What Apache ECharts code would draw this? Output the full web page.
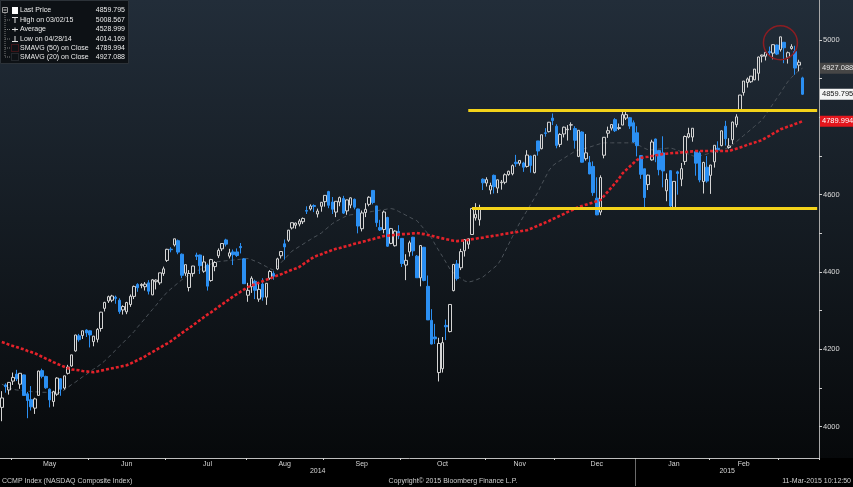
<!DOCTYPE html>
<html><head><meta charset="utf-8">
<script src="https://cdn.jsdelivr.net/npm/echarts@6/dist/echarts.min.js"></script>
<style>html,body{margin:0;padding:0;background:#000}#c{width:853px;height:487px}</style>
</head><body><div id="c"></div>
<script>
// ---- trading days (categories) ----
const tradingDays = {
  '2014-04': [28,29,30],
  '2014-05': [1,2,5,6,7,8,9,12,13,14,15,16,19,20,21,22,23,27,28,29,30],
  '2014-06': [2,3,4,5,6,9,10,11,12,13,16,17,18,19,20,23,24,25,26,27,30],
  '2014-07': [1,2,3,7,8,9,10,11,14,15,16,17,18,21,22,23,24,25,28,29,30,31],
  '2014-08': [1,4,5,6,7,8,11,12,13,14,15,18,19,20,21,22,25,26,27,28,29],
  '2014-09': [2,3,4,5,8,9,10,11,12,15,16,17,18,19,22,23,24,25,26,29,30],
  '2014-10': [1,2,3,6,7,8,9,10,13,14,15,16,17,20,21,22,23,24,27,28,29,30,31],
  '2014-11': [3,4,5,6,7,10,11,12,13,14,17,18,19,20,21,24,25,26,28],
  '2014-12': [1,2,3,4,5,8,9,10,11,12,15,16,17,18,19,22,23,24,26,29,30,31],
  '2015-01': [2,5,6,7,8,9,12,13,14,15,16,20,21,22,23,26,27,28,29,30],
  '2015-02': [2,3,4,5,6,9,10,11,12,13,17,18,19,20,23,24,25,26,27],
  '2015-03': [2,3,4,5,6,9,10]
};
const emptyDaysAfter = ['2015-03-11','2015-03-12','2015-03-13','2015-03-16'];
const monthLabels = {'2014-05':'May','2014-06':'Jun','2014-07':'Jul','2014-08':'Aug','2014-09':'Sep',
  '2014-10':'Oct','2014-11':'Nov','2014-12':'Dec','2015-01':'Jan','2015-02':'Feb'};
const yearLabels = ['2014','2015'];

// ---- OHLC ----
const openP = [
4050,4108,4095,4118,4136,4110,4134,4085,4070,4048,
4081,4145,4130,4097,4065,4084,4124,4100,4138,4157,
4196,4235,4236,4250,4248,4220,4226,4254,4306,4325,
4327,4335,4327,4302,4297,4316,4337,4368,4365,4362,
4372,4341,4375,4372,4396,4430,4459,4470,4481,4446,
4397,4360,4396,4444,4444,4402,4418,4378,4414,4442,
4460,4483,4441,4452,4452,4466,4434,4340,4362,4376,
4330,4369,4335,4384,4396,4408,4442,4473,4482,4514,
4521,4524,4530,4559,4563,4572,4550,4570,4582,4608,
4581,4555,4581,4590,4558,4573,4588,4563,4512,4554,
4575,4611,4571,4515,4510,4541,4474,4468,4505,4487,
4418,4452,4490,4441,4385,4464,4363,4275,4232,4140,
4150,4262,4246,4352,4421,4411,4455,4472,4497,4540,
4535,4640,4630,4612,4650,4617,4631,4632,4652,4654,
4684,4681,4682,4673,4700,4657,4739,4719,4760,4763,
4798,4777,4730,4757,4768,4780,4771,4699,4762,4693,
4683,4673,4591,4555,4702,4759,4772,4794,4771,4780,
4798,4799,4786,4760,4701,4667,4626,4690,4744,4714,
4708,4610,4662,4567,4659,4640,4686,4749,4749,4711,
4708,4634,4671,4650,4685,4720,4727,4777,4722,4742,
4781,4820,4864,4890,4892,4897,4914,4958,4958,4970,
4966,4987,4975,4994,4955,4978,4970,4935,4902];
const highP = [
4092,4112,4115,4140,4147,4139,4135,4090,4105,4075,
4145,4150,4132,4099,4093,4128,4126,4132,4160,4186,
4238,4240,4248,4252,4249,4235,4255,4297,4323,4339,
4341,4339,4332,4314,4323,4342,4365,4371,4371,4374,
4379,4382,4381,4398,4414,4460,4464,4486,4484,4448,
4419,4405,4416,4450,4445,4442,4422,4434,4428,4461,
4475,4486,4460,4458,4461,4475,4436,4372,4389,4380,
4372,4384,4371,4405,4402,4437,4453,4484,4509,4528,
4528,4537,4541,4570,4575,4575,4564,4581,4599,4610,
4594,4583,4595,4597,4587,4593,4590,4564,4559,4578,
4596,4612,4571,4535,4559,4543,4514,4508,4521,4488,
4446,4481,4491,4444,4469,4465,4391,4304,4266,4230,
4232,4277,4317,4421,4431,4460,4484,4487,4565,4578,
4574,4642,4645,4631,4652,4639,4638,4655,4662,4678,
4703,4689,4685,4715,4701,4703,4739,4755,4772,4788,
4810,4782,4759,4776,4780,4787,4777,4767,4764,4757,
4700,4686,4645,4650,4749,4776,4782,4798,4784,4815,
4814,4801,4792,4777,4702,4667,4652,4742,4745,4715,
4751,4655,4663,4635,4662,4682,4753,4773,4772,4714,
4712,4685,4700,4677,4728,4738,4766,4791,4746,4789,
4808,4858,4894,4903,4907,4925,4957,4962,4970,4983,
4989,4988,5008.6,4995,4970,4989,4985,4949,4905];
const lowP = [
4014.2,4088,4083,4108,4118,4098,4080,4022,4042,4033,
4080,4125,4098,4050,4052,4080,4080,4096,4135,4155,
4194,4220,4227,4232,4205,4208,4218,4246,4298,4320,
4322,4318,4292,4290,4291,4310,4330,4349,4358,4352,
4342,4340,4355,4367,4390,4426,4451,4466,4446,4384,
4390,4350,4388,4431,4395,4398,4352,4375,4402,4436,
4454,4466,4435,4418,4439,4448,4369,4323,4346,4330,
4323,4326,4315,4380,4380,4405,4435,4432,4478,4510,
4512,4518,4524,4550,4559,4555,4541,4556,4569,4565,
4550,4542,4570,4550,4548,4565,4562,4500,4505,4542,
4570,4575,4517,4506,4500,4465,4472,4466,4485,4413,
4379,4440,4442,4385,4363,4376,4276,4213,4214,4117,
4140,4224,4244,4350,4378,4405,4440,4460,4497,4533,
4520,4612,4621,4601,4603,4604,4613,4627,4649,4650,
4672,4675,4659,4670,4657,4655,4701,4717,4750,4761,
4780,4720,4723,4748,4740,4767,4719,4697,4683,4688,
4653,4597,4547,4547,4694,4747,4766,4762,4767,4780,
4793,4770,4734,4699,4641,4567,4612,4688,4684,4650,
4619,4583,4567,4563,4600,4622,4677,4746,4737,4649,
4632,4603,4631,4602,4670,4709,4725,4727,4719,4731,
4774,4819,4856,4877,4889,4896,4895,4942,4947,4959,
4950,4961,4970,4940,4939,4975,4910,4919,4858];
const closeP = [
4074.4,4103.5,4114.6,4127.5,4123.9,4138.1,4080.8,4067.7,4051.5,4071.9,
4143.9,4130.2,4100.6,4069.3,4090.6,4125.8,4096.9,4131.5,4154.3,4185.8,
4237.1,4225.1,4248.0,4242.6,4237.2,4234.1,4251.6,4296.2,4321.4,4336.2,
4338.0,4331.9,4297.6,4310.7,4321.1,4337.2,4362.8,4359.3,4368.0,4368.7,
4350.4,4379.8,4379.1,4397.9,4408.2,4458.7,4457.7,4485.9,4451.5,4391.5,
4419.0,4396.2,4415.5,4440.4,4416.4,4426.0,4363.5,4432.2,4424.7,4456.0,
4473.7,4472.1,4449.6,4444.9,4442.7,4462.9,4369.8,4352.6,4383.9,4352.8,
4355.1,4335.0,4370.9,4401.3,4389.3,4434.1,4453.0,4464.9,4508.3,4527.5,
4526.5,4532.1,4538.6,4557.4,4570.6,4569.6,4557.7,4580.3,4598.2,4572.6,
4562.3,4582.9,4592.3,4552.3,4586.5,4591.8,4567.6,4518.9,4552.8,4562.2,
4593.4,4579.8,4527.7,4508.7,4555.2,4466.8,4512.2,4505.9,4493.4,4422.1,
4430.2,4475.6,4454.8,4385.2,4468.6,4378.3,4276.2,4213.7,4227.2,4215.3,
4217.4,4258.4,4316.1,4419.5,4382.9,4452.8,4483.7,4485.9,4564.3,4549.2,
4566.1,4630.7,4638.9,4623.6,4620.7,4638.5,4632.5,4651.6,4660.6,4675.1,
4680.1,4688.5,4671.0,4702.4,4675.7,4701.9,4713.0,4754.9,4758.3,4787.3,
4791.6,4727.4,4755.8,4774.5,4769.4,4780.8,4740.7,4766.5,4684.0,4708.2,
4653.6,4605.2,4547.8,4644.3,4748.4,4765.4,4781.4,4765.4,4773.5,4806.9,
4806.9,4777.4,4736.1,4726.8,4652.6,4592.7,4650.5,4736.2,4704.1,4664.7,
4661.5,4639.3,4570.8,4634.4,4654.9,4667.4,4750.4,4757.9,4771.8,4681.5,
4638.0,4683.4,4635.2,4676.7,4727.7,4716.7,4765.1,4744.4,4726.0,4787.6,
4801.2,4857.6,4893.8,4899.3,4906.4,4924.7,4956.0,4961.0,4968.1,4967.1,
4987.9,4963.5,5008.1,4979.9,4967.1,4982.8,4927.4,4942.4,4859.8];

// ---- moving averages ----
const sma50 = [
4219,4216,4212,4209,4206,4203,4200,4196,4193,4190,
4185,4181,4176,4172,4167,4163,4159,4155,4151,4148,
4147,4146,4144,4143,4142,4141,4143,4145,4147,4149,
4151,4153,4155,4157,4159,4163,4168,4172,4177,4182,
4188,4193,4199,4204,4210,4215,4221,4228,4235,4242,
4249,4255,4262,4269,4276,4283,4290,4296,4303,4310,
4317,4323,4330,4337,4343,4349,4355,4361,4365,4369,
4372,4376,4380,4383,4387,4391,4394,4398,4402,4406,
4409,4413,4420,4426,4433,4439,4443,4446,4450,4453,
4457,4460,4462,4465,4467,4470,4473,4475,4478,4480,
4483,4485,4488,4490,4493,4494,4495,4496,4497,4498,
4498,4499,4500,4501,4499,4498,4496,4494,4491,4489,
4487,4485,4483,4481,4480,4481,4482,4483,4485,4486,
4488,4489,4491,4492,4494,4495,4497,4499,4500,4502,
4503,4505,4507,4508,4512,4516,4520,4524,4528,4532,
4537,4541,4546,4550,4555,4559,4564,4568,4571,4574,
4577,4580,4583,4586,4597,4608,4619,4630,4641,4655,
4664,4673,4682,4690,4695,4697,4698,4700,4702,4703,
4705,4706,4707,4708,4708,4709,4710,4711,4712,4713,
4713,4713,4713,4713,4713,4713,4713,4713,4713,4716,
4719,4722,4725,4729,4732,4735,4738,4741,4747,4752,
4758,4763,4769,4772,4776,4779,4783,4786,4790];
const sma20 = [
4110,4105,4100,4097,4095,4094,4093,4092,4091,4090,
4090,4089,4089,4088,4088,4087,4089,4095,4102,4109,
4115,4122,4129,4135,4142,4149,4155,4162,4170,4179,
4189,4198,4208,4217,4227,4236,4246,4258,4269,4280,
4292,4303,4314,4326,4337,4348,4356,4364,4372,4380,
4387,4392,4397,4402,4407,4412,4416,4421,4426,4427,
4428,4429,4430,4431,4432,4433,4434,4435,4432,4428,
4424,4419,4414,4409,4405,4414,4424,4434,4444,4454,
4460,4466,4472,4478,4484,4490,4495,4501,4509,4517,
4525,4531,4536,4541,4546,4548,4549,4551,4552,4554,
4555,4557,4558,4560,4561,4563,4564,4562,4557,4552,
4547,4542,4537,4533,4522,4511,4499,4488,4471,4455,
4440,4424,4408,4397,4390,4384,4377,4374,4376,4379,
4383,4387,4395,4403,4411,4419,4434,4453,4472,4491,
4509,4527,4543,4559,4575,4591,4607,4627,4645,4663,
4675,4682,4688,4694,4700,4706,4712,4715,4718,4720,
4723,4726,4729,4732,4734,4734,4734,4734,4734,4734,
4734,4734,4734,4730,4725,4720,4716,4716,4717,4718,
4719,4720,4721,4718,4715,4711,4708,4705,4701,4698,
4700,4703,4705,4708,4711,4713,4716,4719,4721,4729,
4737,4745,4753,4761,4769,4777,4785,4793,4807,4821,
4835,4849,4863,4878,4892,4903,4912,4921,4927];

// ---- annotations / labels ----
const resistanceLevel = 4819, supportLevel = 4565;
const resistanceStart = '2014-10-27', supportStart = '2014-10-28';
const circleDate = '2015-03-02', circleValue = 4993;
const rightTagValues = [4927.088, 4859.795, 4789.994];
const yLabelValues = [4000, 4200, 4400, 4600, 5000];
const yTickValues = [4000,4100,4200,4300,4400,4500,4600,4700,4800,4900,5000];
const legendLabels = ['Last Price','High on 03/02/15','Average','Low on 04/28/14','SMAVG (50) on Close','SMAVG (20) on Close'];
const legendValues = ['4859.795','5008.567','4528.999','4014.169','4789.994','4927.088'];
const footerLeft = 'CCMP Index (NASDAQ Composite Index)';
const footerMid = 'Copyright\u00A9 2015 Bloomberg Finance L.P.';
const footerRight = '11-Mar-2015 10:12:50';

// ---- build ----
const cats = [];
const monthOf = [];
Object.keys(tradingDays).forEach(ym => tradingDays[ym].forEach(d => { cats.push(ym + '-' + String(d).padStart(2,'0')); monthOf.push(ym); }));
emptyDaysAfter.forEach(d => { cats.push(d); monthOf.push(d.slice(0,7)); });

const boundarySet = new Set();
const labelIdx = {};
const monthRanges = {};
monthOf.forEach((m, i) => { if (!monthRanges[m]) monthRanges[m] = [i, i]; else monthRanges[m][1] = i; if (i > 0 && monthOf[i-1] !== m) boundarySet.add(i); });
Object.keys(monthLabels).forEach(m => { const r = monthRanges[m]; labelIdx[Math.round((r[0] + r[1]) / 2)] = monthLabels[m]; });

const candleData = openP.map((o, i) => [o, closeP[i], lowP[i], highP[i]]);
const FONT = '"Liberation Sans", Arial, sans-serif';
const lastCat = cats[cats.length - 1];

const tag = (v, bg, fg) => ({
  yAxis: v,
  lineStyle: { color: 'rgba(0,0,0,0)', width: 1 },
  label: { show: true, position: 'end', distance: 1, formatter: v.toFixed(3), color: fg, backgroundColor: bg,
    padding: [2, 1, 1, 2], fontSize: 7.5, fontFamily: FONT }
});

const chart = echarts.init(document.getElementById('c'), null, { renderer: 'canvas' });
const option = {
  animation: false,
  backgroundColor: { type: 'linear', x: 0, y: 0, x2: 0, y2: 1, colorStops: [
    { offset: 0, color: '#222d39' }, { offset: 0.45, color: '#151c23' }, { offset: 0.94, color: '#07090b' },
    { offset: 0.9405, color: '#000000' }, { offset: 1, color: '#000000' } ] },
  grid: { left: -3, right: 34, top: 0, bottom: 29 },
  xAxis: {
    type: 'category', data: cats, boundaryGap: true,
    axisLine: { lineStyle: { color: '#bdbdbd', width: 1 } },
    axisTick: { show: true, interval: (i) => boundarySet.has(i), length: 2, lineStyle: { color: '#cfcfcf' } },
    axisLabel: { interval: (i) => labelIdx[i] !== undefined, formatter: (v, i) => labelIdx[i] || '',
      color: '#d6d6d6', fontSize: 7, fontFamily: FONT, margin: 3 },
    splitLine: { show: false }
  },
  yAxis: {
    type: 'value', position: 'right', min: 3919.1, max: 5103.4, scale: true,
    axisLine: { show: true, lineStyle: { color: '#a8a8a8' } },
    axisTick: { show: true, length: 3, customValues: yTickValues, lineStyle: { color: '#cfcfcf' } },
    axisLabel: { customValues: yLabelValues, formatter: (v) => String(v), color: '#dcdcdc', fontSize: 7.5, fontFamily: FONT, margin: 4 },
    splitLine: { show: false }
  },
  series: [
    { name: 'SMAVG (20)', type: 'line', data: sma20, showSymbol: false, silent: true, z: 1,
      lineStyle: { color: '#4b5259', width: 1, type: [4, 3] } },
    { name: 'CCMP', type: 'candlestick', data: candleData, barWidth: 3, z: 2,
      itemStyle: { color: 'rgba(0,0,0,0)', color0: '#2b8ff2', borderColor: '#d4d4d4', borderColor0: '#2b8ff2', borderWidth: 1 },
      markLine: { silent: true, symbol: 'none', animation: false, label: { show: false },
        lineStyle: { color: '#f4d31a', width: 3, type: 'solid' },
        data: [
          [{ coord: [resistanceStart, resistanceLevel] }, { coord: [lastCat, resistanceLevel] }],
          [{ coord: [supportStart, supportLevel] }, { coord: [lastCat, supportLevel] }]
        ] },
      markPoint: { silent: true, animation: false, label: { show: false },
        data: [{ coord: [circleDate, circleValue], symbol: 'circle', symbolSize: 34,
          itemStyle: { color: 'rgba(0,0,0,0)', borderColor: '#8c1d22', borderWidth: 1.5 } }] } },
    { name: 'SMAVG (50)', type: 'line', data: sma50, showSymbol: false, silent: true, z: 3,
      lineStyle: { color: '#e3222a', width: 2.6, type: [3, 2] },
      markLine: { silent: true, symbol: 'none', animation: false,
        data: [ tag(rightTagValues[0], '#464646', '#e6e6e6'), tag(rightTagValues[1], '#f4f4f4', '#111111'), tag(rightTagValues[2], '#e5161d', '#ffffff') ] } }
  ]
};
chart.setOption(option);

// ---- overlays positioned from the axis scale ----
const cx = (i) => chart.convertToPixel({ xAxisIndex: 0 }, cats[i]);
const bw = cx(1) - cx(0);
const plotL = cx(0) - bw / 2, plotR = cx(cats.length - 1) + bw / 2;
const janIdx = cats.indexOf('2015-01-02');
const yearSep = (cx(janIdx - 1) + cx(janIdx)) / 2;
const axisY = chart.convertToPixel({ yAxisIndex: 0 }, 3919.1);

const txt = (text, x, y, align, color, size) => ({ type: 'text', silent: true, z: 100,
  style: { text, x, y, textAlign: align, textVerticalAlign: 'middle', verticalAlign: 'middle', fill: color, font: size + 'px ' + FONT } });
const ln = (x1, y1, x2, y2, color, w, dash) => ({ type: 'line', silent: true, z: 100,
  shape: { x1, y1, x2, y2 }, style: { stroke: color, lineWidth: w || 1, lineDash: dash || null } });

const g = [];
g.push({ type: 'rect', silent: true, z: 99, shape: { x: 0.5, y: 0.5, width: 128, height: 63 }, style: { fill: '#0d1115', stroke: '#2c3238', lineWidth: 1 } });
const rowsY = [10.5, 20, 29.5, 39, 48, 57];
g.push({ type: 'rect', silent: true, z: 100, shape: { x: 2.5, y: 7.5, width: 5, height: 5 }, style: { fill: 'none', stroke: '#9a9a9a', lineWidth: 1 } });
g.push(ln(3.5, 10, 6.5, 10, '#cfcfcf', 1));
g.push(ln(5, 13, 5, 57, '#7a7a7a', 1, [1, 1]));
rowsY.slice(1).forEach(y => g.push(ln(5, y, 10, y, '#7a7a7a', 1, [1, 1])));
g.push({ type: 'rect', silent: true, z: 100, shape: { x: 12, y: 7, width: 6, height: 7 }, style: { fill: '#ffffff' } });
g.push(ln(12, 17.5, 18, 17.5, '#e0e0e0', 1)); g.push(ln(15, 17.5, 15, 23, '#e0e0e0', 1));
g.push(ln(12, 29.5, 18, 29.5, '#e0e0e0', 1)); g.push(ln(15, 27.5, 15, 31.5, '#e0e0e0', 1));
g.push(ln(15, 36, 15, 41.5, '#e0e0e0', 1)); g.push(ln(12, 41.5, 18, 41.5, '#e0e0e0', 1));
g.push({ type: 'rect', silent: true, z: 100, shape: { x: 11.5, y: 44.5, width: 7, height: 7 }, style: { fill: 'none', stroke: '#6e1a1e', lineWidth: 1, lineDash: [1, 1] } });
g.push({ type: 'rect', silent: true, z: 100, shape: { x: 11.5, y: 53.5, width: 7, height: 7 }, style: { fill: 'none', stroke: '#3a3f44', lineWidth: 1, lineDash: [1, 1] } });
legendLabels.forEach((t, i) => { g.push(txt(t, 20, rowsY[i], 'left', '#eaeaea', 7)); g.push(txt(legendValues[i], 125, rowsY[i], 'right', '#eaeaea', 7)); });
g.push(txt(yearLabels[0], (plotL + yearSep) / 2, 471, 'center', '#d6d6d6', 7));
g.push(txt(yearLabels[1], (yearSep + plotR) / 2, 471, 'center', '#d6d6d6', 7));
g.push(ln(Math.round(yearSep) + 0.5, axisY + 1, Math.round(yearSep) + 0.5, 486, '#6a6a6a', 1));
g.push(txt(footerLeft, 2, 481, 'left', '#d0d0d0', 7));
g.push(txt(footerMid, 453, 481, 'center', '#d0d0d0', 7));
g.push(txt(footerRight, 851, 481, 'right', '#d0d0d0', 7));
chart.setOption({ graphic: g });
</script>
</body></html>
